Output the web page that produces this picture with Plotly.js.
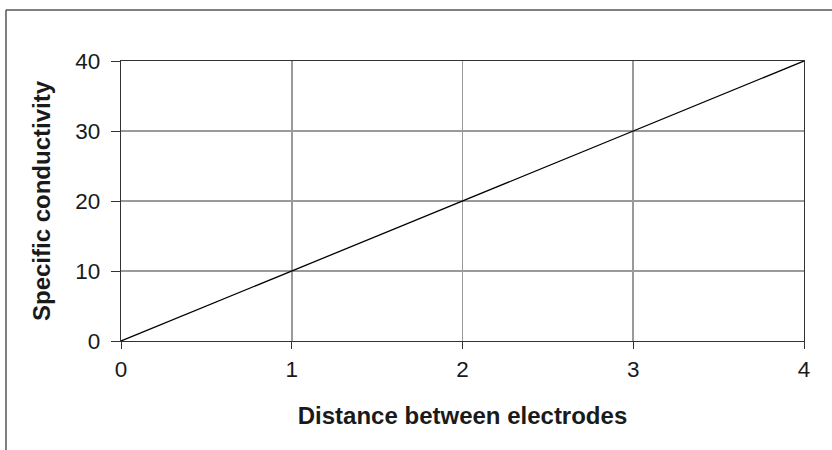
<!DOCTYPE html>
<html>
<head>
<meta charset="utf-8">
<script src="https://cdn.plot.ly/plotly-3.0.1.min.js"></script>
<style>
html,body{margin:0;padding:0;background:#fff;}
#chart{width:832px;height:450px;}
</style>
</head>
<body>
<div id="chart"></div>
<script>
var distance = [0, 1, 2, 3, 4];
var conductivity = [0, 10, 20, 30, 40];
var xTitle = "Distance between electrodes";
var yTitle = "Specific conductivity";

var trace = {
  x: distance,
  y: conductivity,
  type: "scatter",
  mode: "lines",
  line: {color: "#000", width: 1.3},
  hoverinfo: "skip"
};

var layout = {
  width: 832,
  height: 450,
  margin: {l: 121, r: 28, t: 61, b: 109},
  paper_bgcolor: "#fff",
  plot_bgcolor: "#fff",
  showlegend: false,
  font: {family: "Liberation Sans, Arial, sans-serif", size: 22, color: "#1a1a1a"},
  xaxis: {
    range: [0, 4],
    dtick: 1,
    tick0: 0,
    showgrid: true,
    gridcolor: "#9a9a9a",
    gridwidth: 1.6,
    zeroline: false,
    showline: true,
    linecolor: "#333",
    linewidth: 1.2,
    mirror: true,
    ticks: "outside",
    ticklen: 7,
    tickcolor: "#333",
    tickfont: {size: 22.5},
    ticklabelstandoff: 1,
    title: {text: "<b>" + xTitle + "</b>", font: {size: 24}, standoff: 26},
    automargin: false
  },
  yaxis: {
    range: [0, 40],
    dtick: 10,
    tick0: 0,
    showgrid: true,
    gridcolor: "#9a9a9a",
    gridwidth: 1.6,
    zeroline: false,
    showline: true,
    linecolor: "#333",
    linewidth: 1.2,
    mirror: true,
    ticks: "outside",
    ticklen: 9,
    tickcolor: "#333",
    tickfont: {size: 22.5},
    ticklabelstandoff: 6,
    title: {text: "<b>" + yTitle + "</b>", font: {size: 24}, standoff: 17},
    automargin: false
  },
  shapes: [
    {type: "line", xref: "paper", yref: "paper", x0: -0.1684, x1: 1.2, y0: 1.182, y1: 1.182, line: {color: "#555", width: 1.5}},
    {type: "line", xref: "paper", yref: "paper", x0: -0.1684, x1: -0.1684, y0: 1.182, y1: -0.6, line: {color: "#555", width: 1.5}}
  ]
};

Plotly.newPlot("chart", [trace], layout, {displayModeBar: false, staticPlot: true});
</script>
</body>
</html>
